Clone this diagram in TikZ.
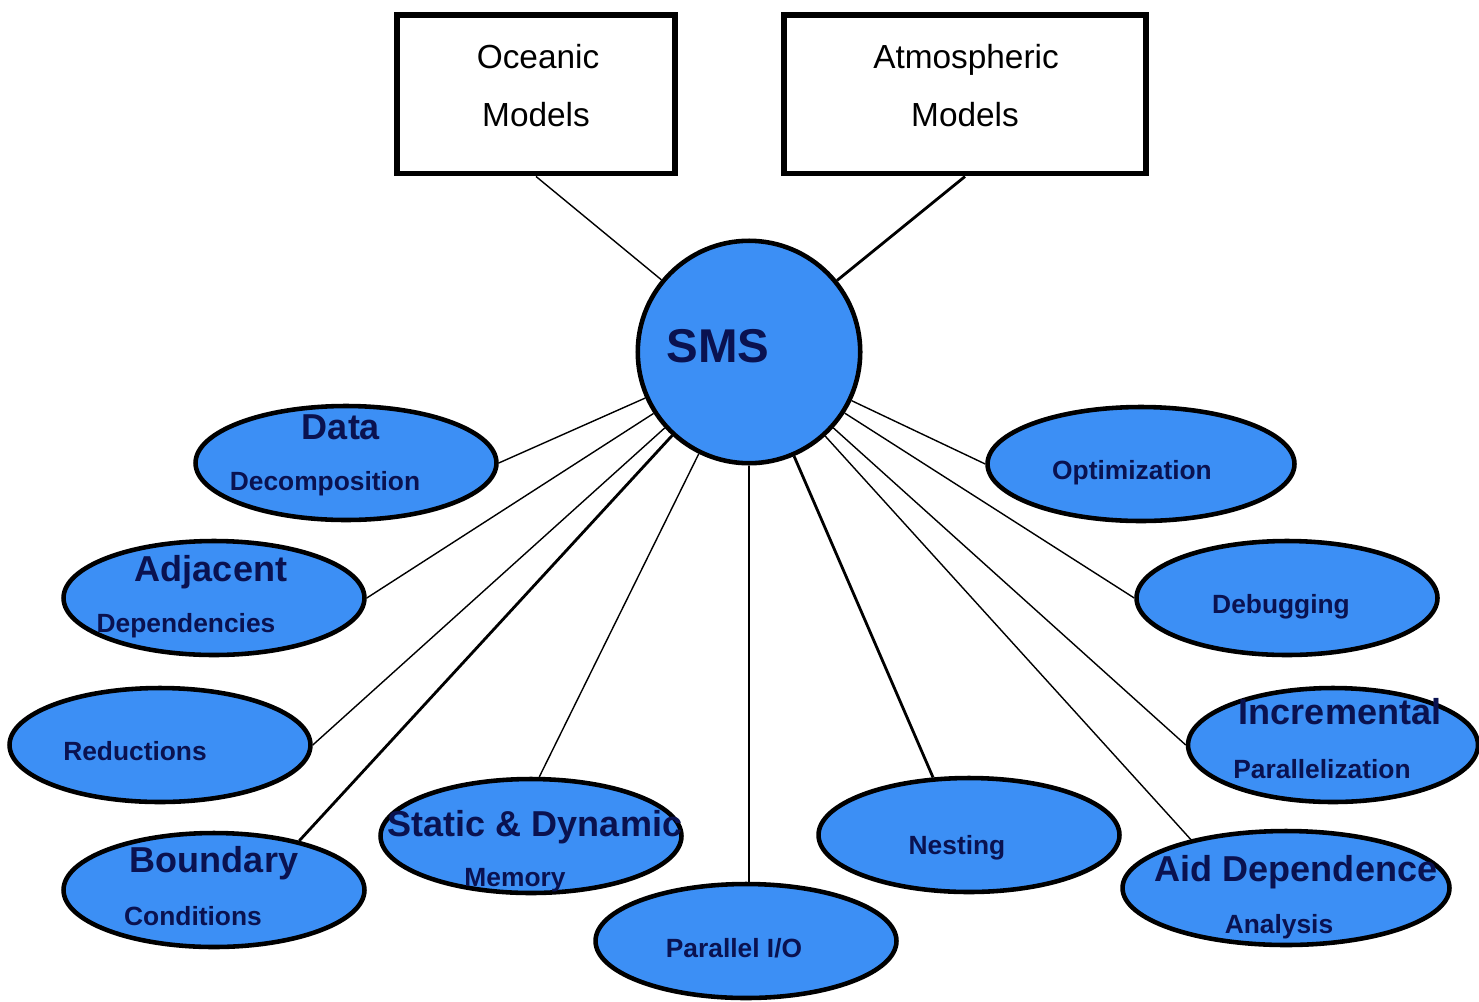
\documentclass[tikz,border=0pt]{standalone}
\usepackage{fontspec}
\setmainfont{Liberation Sans}
\usepackage{tikz}
\usetikzlibrary{shapes,shapes.geometric,calc,positioning}
\definecolor{smsblue}{RGB}{60,143,245}
\definecolor{smsink}{RGB}{10,18,80}
\tikzset{
  box/.style={draw, line width=3.4pt, fill=white, minimum width=5.56cm, minimum height=3.18cm},
  hub/.style={circle, draw, line width=2.6pt, fill=smsblue, minimum size=4.45cm, inner sep=0pt},
  leaf/.style={ellipse, draw, line width=2.6pt, fill=smsblue, minimum width=6.02cm, minimum height=2.28cm, inner sep=0pt},
  txt/.style={inner sep=0pt, text height=.72em, text depth=0pt},
  box_t/.style={txt, font=\fontsize{19}{22}\selectfont},
  big_t/.style={txt, smsink, font=\fontsize{20.5}{24}\selectfont\bfseries},
  small_t/.style={txt, smsink, font=\fontsize{15}{18}\selectfont\bfseries},
  thin_l/.style={line width=0.8pt},
  thick_l/.style={line width=1.6pt}
}
\begin{document}
\begin{tikzpicture}[x=0.02cm, y=-0.02cm]
  \useasboundingbox (0,0) rectangle (1479,1001);

  % the two model boxes
  \node[box] (oce) at (536,94) {};
  \node[box, minimum width=7.26cm] (atm) at (965,94) {};
  \node[box_t] (oce_t1) at (538,62) {Oceanic};
  \node[box_t] (oce_t2) at (536,120) {Models};
  \node[box_t] (atm_t1) at (966,62) {Atmospheric};
  \node[box_t] (atm_t2) at (965,120) {Models};

  % hub
  \node[hub] (sms) at (749,352) {};
  \node[txt, smsink, font=\fontsize{27}{30}\selectfont\bfseries] (sms_t) at (718,356) {SMS};

  % left side
  \node[leaf] (dec) at (346,463) {};
  \node[leaf] (adj) at (214,598) {};
  \node[leaf] (red) at (160,745) {};
  \node[leaf] (bnd) at (214,890) {};
  \node[leaf] (mem) at (531,836) {};
  \node[leaf] (pio) at (746,941) {};
  % right side
  \node[leaf] (nest) at (969,835) {};
  \node[leaf, minimum width=6.54cm] (aid) at (1286,888) {};
  \node[leaf, minimum width=5.8cm] (inc) at (1333,745) {};
  \node[leaf] (dbg) at (1287,598) {};
  \node[leaf, minimum width=6.14cm] (opt) at (1141,464) {};

  % connectors
  \draw[thin_l] (oce.south) -- (sms);
  \draw[thick_l] (atm.south) -- (sms);
  \draw[thin_l] (sms) -- (dec.east);
  \draw[thin_l] (sms) -- (adj.east);
  \draw[thin_l] (sms) -- (red.east);
  \draw[thick_l] (sms) -- (bnd.30);
  \draw[thin_l] (sms) -- (mem.82);
  \draw[thick_l] (sms.south) -- (sms.south |- pio.north);
  \draw[thick_l] (sms) -- (nest.122);
  \draw[thin_l] (sms) -- (aid.153);
  \draw[thin_l] (sms) -- (inc.west);
  \draw[thin_l] (sms) -- (dbg.west);
  \draw[thin_l] (sms) -- (opt.west);

  % labels
  \node[big_t] (dec_t1) at (341,433) {Data};
  \node[small_t] (dec_t2) at (325,484) {Decomposition};
  \node[big_t] (adj_t1) at (211,575) {Adjacent};
  \node[small_t] (adj_t2) at (186,626) {Dependencies};
  \node[small_t] (red_t) at (135,754) {Reductions};
  \node[big_t] (bnd_t1) at (214,866) {Boundary};
  \node[small_t] (bnd_t2) at (193,919) {Conditions};
  \node[big_t] (mem_t1) at (535,830) {Static \& Dynamic};
  \node[small_t] (mem_t2) at (515,880) {Memory};
  \node[small_t] (pio_t) at (734,951) {Parallel I/O};
  \node[small_t] (nest_t) at (957,848) {Nesting};
  \node[big_t] (aid_t1) at (1296,875) {Aid Dependence};
  \node[small_t] (aid_t2) at (1279,927) {Analysis};
  \node[big_t] (inc_t1) at (1340,718) {Incremental};
  \node[small_t] (inc_t2) at (1322,772) {Parallelization};
  \node[small_t] (dbg_t) at (1281,607) {Debugging};
  \node[small_t] (opt_t) at (1132,473) {Optimization};
\end{tikzpicture}
\end{document}
